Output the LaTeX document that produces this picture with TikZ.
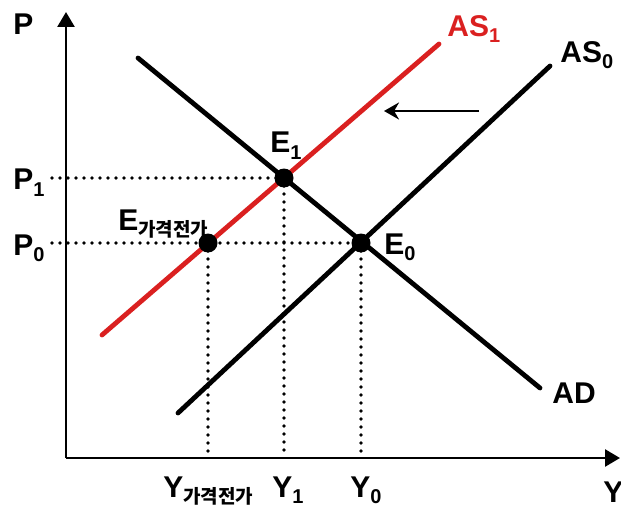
\documentclass[tikz,border=0pt]{standalone}
\usepackage{fontspec}
\setmainfont{Liberation Sans}
\newfontfamily\kor{Noto Sans CJK KR}
\usepackage{xcolor}
\usetikzlibrary{arrows.meta}

\definecolor{asred}{RGB}{218,32,32}
\newcommand{\lowsub}[1]{\raisebox{-3pt}{\fontsize{10}{10}\selectfont\bfseries #1}}
\newcommand{\korsub}[1]{\raisebox{-3pt}{\fontsize{9.5}{10}\selectfont\kor\bfseries #1}}

\begin{document}
\begin{tikzpicture}[
    x=0.5pt, y=-0.5pt,
    axis/.style={line width=1.3pt, -{Triangle[length=7.5pt, width=8.5pt]}},
    curve/.style={line width=2.4pt, line cap=round},
    guide/.style={line width=1.9pt, line cap=round, dash pattern=on 0pt off 4pt},
    dot/.style={circle, fill=black, inner sep=0pt, minimum size=9.5pt},
    lbl/.style={anchor=base west, inner sep=0pt, font=\fontsize{15}{18}\selectfont\bfseries},
    movearr/.style={line width=1.2pt, -{Stealth[length=7.5pt, width=8.5pt]}}
  ]
  \useasboundingbox (0,0) rectangle (621,508);

  % axes
  \coordinate (O) at (66,458);
  \coordinate (ytop) at (66,12);
  \coordinate (xend) at (620,458);
  \draw[axis] (O) -- (ytop);
  \draw[axis] (O) -- (xend);

  % equilibrium points
  \coordinate (E1) at (284,178);
  \coordinate (E0) at (361,243);
  \coordinate (Ep) at (208,243);
  \coordinate (p1) at (52,178);
  \coordinate (p0) at (52,243);
  \coordinate (y1) at (284,456);
  \coordinate (y0) at (361,456);
  \coordinate (yp) at (208,456);

  % guide lines
  \draw[guide] (p1) -- (E1);
  \draw[guide] (p0) -- (E0);
  \draw[guide] (E1) -- (y1);
  \draw[guide] (E0) -- (y0);
  \draw[guide] (Ep) -- (yp);

  % curves
  \coordinate (ad1) at (138,58);
  \coordinate (ad2) at (540,388);
  \coordinate (as0a) at (178,413);
  \coordinate (as0b) at (550,66);
  \coordinate (as1a) at (102,335);
  \coordinate (as1b) at (439,44);
  \draw[curve] (ad1) -- (ad2);
  \draw[curve] (as0a) -- (as0b);
  \draw[curve, asred] (as1a) -- (as1b);

  % shift of AS
  \coordinate (sh1) at (479,111);
  \coordinate (sh2) at (384,111);
  \draw[movearr] (sh1) -- (sh2);

  \node[dot] (dE1) at (E1) {};
  \node[dot] (dE0) at (E0) {};
  \node[dot] (dEp) at (Ep) {};

  % labels
  \node[lbl] (P) at (13,35) {P};
  \node[lbl] (P1) at (13,190) {P\lowsub{1}};
  \node[lbl] (P0) at (13,255) {P\lowsub{0}};
  \node[lbl] (lE1) at (270,153) {E\lowsub{1}};
  \node[lbl] (lE0) at (384,254) {E\lowsub{0}};
  \node[lbl] (lEp) at (118,230) {E\korsub{가격전가}};
  \node[lbl, asred] (AS1) at (447,37) {AS\lowsub{1}};
  \node[lbl] (AS0) at (560,63) {AS\lowsub{0}};
  \node[lbl] (AD) at (552,403) {AD};
  \node[lbl] (Y) at (603,502) {Y};
  \node[lbl] (Yp) at (163,497) {Y\korsub{가격전가}};
  \node[lbl] (Y1) at (272,497) {Y\lowsub{1}};
  \node[lbl] (Y0) at (350,497) {Y\lowsub{0}};
\end{tikzpicture}
\end{document}
